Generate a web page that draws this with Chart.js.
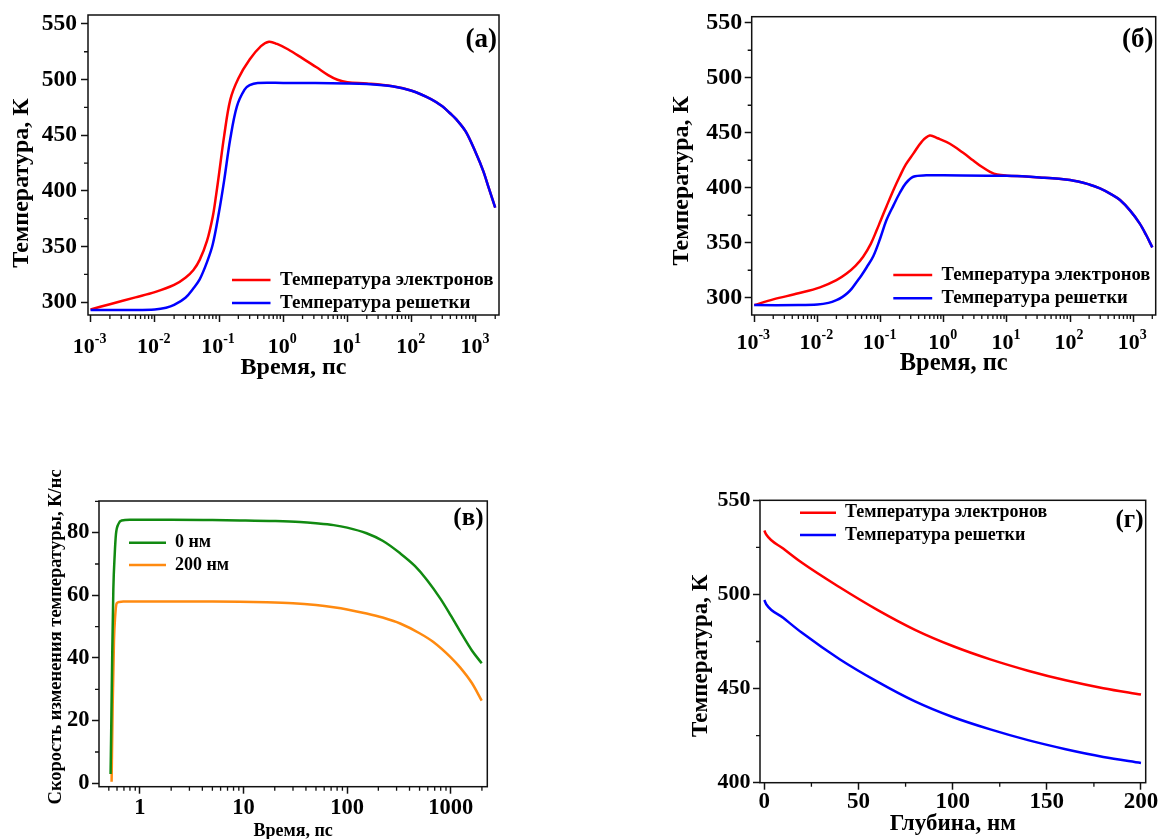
<!DOCTYPE html>
<html><head><meta charset="utf-8">
<script src="https://cdn.jsdelivr.net/npm/chart.js@4.4.1/dist/chart.umd.min.js"></script>
<style>
html,body{margin:0;padding:0;background:#fff;overflow:hidden;width:1159px;height:839px;position:relative}
canvas{position:absolute;display:block}
</style></head><body>
<canvas id="ca" width="520" height="400" style="left:0;top:0;width:520px;height:400px"></canvas>
<canvas id="cb" width="519" height="400" style="left:640px;top:0;width:519px;height:400px"></canvas>
<canvas id="cc" width="520" height="399" style="left:0;top:440px;width:520px;height:399px"></canvas>
<canvas id="cd" width="519" height="399" style="left:640px;top:440px;width:519px;height:399px"></canvas>
<script>
// ---------- DATA ----------
// (а) temperature vs time, log time axis
const a_te_t = [0.001,0.002,0.005,0.01,0.02,0.03,0.04,0.05,0.065,0.08,0.09,0.1,0.12,0.15,0.2,0.3,0.45,0.6,0.8,1.2,2,3.3,5,7,10,20,50,100,200,300,400,500,700,1000,1300,1600,2000];
const a_te_T = [293.5,298.2,304.3,309,315.5,322,329,338,355,377,396,415,449,482,501,518,530,534,532,527,519,511,504,499.8,497.6,496.5,494,490,482.5,476,469.5,464,453,434,418,402,385];
const a_tl_t = [0.001,0.005,0.01,0.015,0.02,0.03,0.04,0.05,0.065,0.08,0.1,0.12,0.15,0.19,0.25,0.3,0.4,1,10,20,50,100,200,300,400,500,700,1000,1300,1600,2000];
const a_tl_T = [293,293,293.5,295,297.5,304,312.5,320.5,336,352,381,409,447,476,491,495,497,497,496.5,496,494,490,482.5,476,469.5,464,453,434,418,402,385];
// (б)
const b_te_t = [0.001,0.002,0.005,0.011,0.02,0.029,0.04,0.053,0.07,0.087,0.1,0.124,0.16,0.2,0.25,0.33,0.45,0.6,0.8,1.25,2,2.9,4,5.4,7,10,20,33,100,200,297,450,617,900,1260,1600,2000];
const b_te_T = [293.3,298.5,304,309.4,316,322,329,337.3,349,361.5,370,383,398,410,421,431,442,447.5,445,440,432,425,419,414.5,412,411,410.3,409.4,407,403,399.4,394,388.8,379,367.6,357,345.8];
const b_tl_t = [0.001,0.005,0.01,0.015,0.02,0.025,0.03,0.035,0.042,0.05,0.06,0.077,0.1,0.124,0.16,0.2,0.25,0.33,0.53,1,10,33,100,200,297,450,617,900,1260,1600,2000];
const b_tl_T = [293.3,293.3,293.8,295.3,297.8,300.8,304.3,308.3,314.5,320.5,327.5,338,355,370.6,384,395,404,410,411.3,411.3,410.8,409.4,407,403,399.4,394,388.8,379,367.6,357,345.8];
// (в) heating rate vs time
const c_g_t = [0.52,0.53,0.54,0.553,0.57,0.586,0.62,0.665,0.8,1,2,5,9.2,20,35,50,74,100,154,220,325,450,587,800,1000,1300,1600,1990];
const c_g_v = [3,22,42,62,73,79.5,82.8,83.9,84.1,84.1,84.1,84,83.9,83.7,83.4,83,82.4,81.6,79.8,77.4,73.4,69.4,65,58.8,53.6,47.2,42.4,38.3];
const c_o_t = [0.532,0.545,0.561,0.575,0.595,0.63,0.69,1,5,16.7,30,50,74,100,154,220,325,500,680,1000,1230,1600,1990];
const c_o_v = [0.5,25,45.7,53,57.4,57.9,58,58,58,57.8,57.5,56.9,56.2,55.5,54.2,52.9,51,47.9,45.1,40.2,37,32,26.4];
// (г) temperature vs depth
const d_x   = [0,1,10,20,40,60,80,100,120,140,160,180,200];
const d_e_T = [534,531.8,524.4,516.8,503.8,491.8,481.2,472.6,465.5,459.5,454.4,450.2,446.8];
const d_l_T = [497,494.8,487.6,479.6,465.6,453.7,443.2,434.9,428.3,422.6,417.8,413.7,410.5];
// labels
const lblTe = 'Температура электронов';
const lblTl = 'Температура решетки';
const lbl0 = '0 нм';
const lbl200 = '200 нм';
const yTitleT = 'Температура, К';
const yTitleRate = 'Скорость изменения температуры, К/нс';
const xTitleTime = 'Время, пс';
const xTitleDepth = 'Глубина, нм';
const yTicksA = [300,325,350,375,400,425,450,475,500,525,550];
const yTicksC = [0,10,20,30,40,50,60,70,80,90];
const yTicksD = [400,425,450,475,500,525,550];
const xTicksD = [0,25,50,75,100,125,150,175,200];

// ---------- STYLE / HELPERS ----------
const FONT = '"Liberation Serif", "Times New Roman", serif';
const AX = '#111';
const RED = '#ff0000', BLUE = '#0000ff', GREEN = '#118a11', ORANGE = '#ff8a10';
const NB = '\u00A0';
const pts = (xs, ys) => xs.map((x, i) => ({x: x, y: ys[i]}));

function logTicks(min, max) {
  const t = [];
  for (let e = Math.floor(Math.log10(min)); e <= Math.ceil(Math.log10(max)); e++) {
    for (let k = 1; k <= 9; k++) {
      const v = +(k * Math.pow(10, e)).toPrecision(6);
      if (v >= min && v <= max) t.push({value: v, major: k === 1});
    }
  }
  return t;
}
function listTicks(list, majorStep) {
  return list.map(v => ({value: v, major: Math.abs(Math.round(v / majorStep) * majorStep - v) < 1e-9}));
}
const tickCol = c => (c.tick && c.tick.major) ? AX : 'rgba(0,0,0,0)';
const grid = {display: true, drawOnChartArea: false, drawTicks: true, tickLength: 7, tickWidth: 1.5, tickColor: tickCol};
const zeroPad = s => { s.paddingTop = 0; s.paddingBottom = 0; s.paddingLeft = 0; s.paddingRight = 0; };

function yAxis(o) {
  return {
    type: 'linear', min: o.min, max: o.max,
    afterBuildTicks: s => { s.ticks = listTicks(o.ticks, o.major); },
    afterFit: s => { s.width = o.width; zeroPad(s); },
    grid: grid, border: {display: false},
    ticks: {autoSkip: false, padding: o.tickPad, color: '#000',
      font: {family: FONT, size: o.tickSize, weight: 'bold', lineHeight: 1},
      callback: (v, i, t) => t[i].major ? String(v) : ''},
    title: {display: true, text: o.title, color: '#000',
      font: {family: FONT, size: o.titleSize, weight: 'bold', lineHeight: 1},
      padding: {top: o.titlePad, bottom: 0}}
  };
}
function xAxis(o) {
  const isLog = o.type === 'logarithmic';
  return {
    type: o.type, min: o.min, max: o.max,
    afterBuildTicks: s => { s.ticks = isLog ? logTicks(s.min, s.max) : listTicks(o.ticks, o.major); },
    afterFit: s => { s.height = o.height; zeroPad(s); },
    grid: grid, border: {display: false},
    ticks: {autoSkip: false, maxRotation: 0, minRotation: 0, padding: o.tickPad, color: '#000',
      font: {family: FONT, size: o.tickSize, weight: 'bold', lineHeight: 1},
      callback: (v, i, t) => (t[i].major && !o.pow) ? String(v) : ''},
    title: {display: true, text: o.title, color: '#000',
      font: {family: FONT, size: o.titleSize, weight: 'bold', lineHeight: 1},
      padding: {top: 0, bottom: o.titlePad}}
  };
}

const panelPlugin = {
  id: 'panel',
  beforeDraw(chart, args, o) {
    const lg = chart.legend;
    if (lg && o.legendAt) {
      const pad = chart.options.plugins.legend.labels.padding;
      const w = lg.width;
      lg.left = o.legendAt[0] - pad; lg.top = o.legendAt[1] - pad;
      lg.right = lg.left + w; lg.bottom = chart.height;
    }
  },
  afterDraw(chart, args, o) {
    const ctx = chart.ctx, a = chart.chartArea;
    const xs = chart.scales.x, ys = chart.scales.y;
    ctx.save();
    ctx.strokeStyle = AX; ctx.lineWidth = 1.5;
    ctx.strokeRect(a.left, a.top, a.right - a.left, a.bottom - a.top);
    ctx.lineWidth = 1.3;
    ctx.beginPath();
    xs.ticks.forEach(t => { if (!t.major) { const p = xs.getPixelForValue(t.value); ctx.moveTo(p, a.bottom); ctx.lineTo(p, a.bottom + 4); } });
    ys.ticks.forEach(t => { if (!t.major) { const p = ys.getPixelForValue(t.value); ctx.moveTo(a.left, p); ctx.lineTo(a.left - 4, p); } });
    ctx.stroke();
    ctx.fillStyle = '#000';
    ctx.textBaseline = 'alphabetic';
    if (o.pow) {
      const f1 = 'bold ' + o.pow.size + 'px ' + FONT, f2 = 'bold ' + o.pow.expSize + 'px ' + FONT;
      xs.ticks.forEach(t => {
        if (!t.major) return;
        const p = xs.getPixelForValue(t.value);
        const e = Math.round(Math.log10(t.value));
        const es = String(e);
        ctx.font = f1; const w1 = ctx.measureText('10').width;
        ctx.font = f2; const w2 = ctx.measureText(es).width;
        const x0 = p - (w1 + w2) / 2 + o.pow.dx;
        const base = a.bottom + o.pow.base;
        ctx.textAlign = 'left';
        ctx.font = f1; ctx.fillText('10', x0, base);
        ctx.font = f2; ctx.fillText(es, x0 + w1, base - o.pow.rise);
      });
    }
    ctx.font = 'bold ' + o.labelSize + 'px ' + FONT;
    ctx.textAlign = 'right';
    ctx.fillText(o.label, o.labelAt[0], o.labelAt[1]);
    ctx.restore();
  }
};

function ds(label, xs, ys, color, order, mono) {
  const d = {label: label, data: pts(xs, ys), borderColor: color, backgroundColor: color,
    borderWidth: 2.5, pointRadius: 0, fill: false, order: order};
  if (mono) d.cubicInterpolationMode = 'monotone'; else d.tension = 0.35;
  return d;
}

function makeChart(id, c) {
  return new Chart(document.getElementById(id), {
    type: 'line',
    data: {datasets: c.datasets},
    options: {
      responsive: false, animation: false, devicePixelRatio: 1, events: [],
      layout: {padding: c.padding},
      scales: {x: c.x, y: c.y},
      plugins: {
        tooltip: {enabled: false},
        legend: {display: true, position: 'chartArea', align: 'start',
          labels: {usePointStyle: true, pointStyle: 'line', pointStyleWidth: c.legend.psw,
            padding: c.legend.pad, color: '#000',
            font: {family: FONT, size: c.legend.size, weight: 'bold'},
            sort: (p, q) => p.datasetIndex - q.datasetIndex}},
        panel: c.panel
      }
    },
    plugins: [panelPlugin]
  });
}

// (а)
makeChart('ca', {
  padding: {left: 0, top: 15, right: 21, bottom: 0},
  datasets: [ds(lblTe, a_te_t, a_te_T, RED, 1, false), ds(lblTl, a_tl_t, a_tl_T, BLUE, 0, false)],
  x: xAxis({type: 'logarithmic', min: Math.pow(10, -3.04), max: Math.pow(10, 3.36), height: 85, pow: true,
    tickPad: 4, tickSize: 22, title: xTitleTime, titleSize: 24, titlePad: 20.3}),
  y: yAxis({min: 288.5, max: 558, ticks: yTicksA, major: 50, width: 88, tickPad: 4, tickSize: 23.5,
    title: yTitleT + NB.repeat(6), titleSize: 24, titlePad: 9.8}),
  legend: {psw: 38.5, pad: 4, size: 19},
  panel: {legendAt: [232, 270.5], label: '(а)', labelSize: 27, labelAt: [497, 47],
    pow: {size: 22, expSize: 14, rise: 10, base: 37.7, dx: -1}}
});
// (б)
makeChart('cb', {
  padding: {left: 0, top: 16.7, right: 3.3, bottom: 0},
  datasets: [ds(lblTe, b_te_t, b_te_T, RED, 1, false), ds(lblTl, b_tl_t, b_tl_T, BLUE, 0, false)],
  x: xAxis({type: 'logarithmic', min: Math.pow(10, -3.04), max: Math.pow(10, 3.355), height: 85, pow: true,
    tickPad: 4, tickSize: 22, title: xTitleTime, titleSize: 24.5, titlePad: 24.5}),
  y: yAxis({min: 284.3, max: 555.5, ticks: yTicksA, major: 50, width: 111.7, tickPad: 2.5, tickSize: 24,
    title: yTitleT + NB.repeat(5), titleSize: 24, titlePad: 29.8}),
  legend: {psw: 38.9, pad: 4.7, size: 18.6},
  panel: {legendAt: [253.3, 265.7], label: '(б)', labelSize: 27, labelAt: [513.5, 47],
    pow: {size: 22, expSize: 14, rise: 10, base: 33.5, dx: -1}}
});
// (в)
makeChart('cc', {
  padding: {left: 0, top: 61, right: 32.7, bottom: 0},
  datasets: [ds(lbl0, c_g_t, c_g_v, GREEN, 0, true), ds(lbl200, c_o_t, c_o_v, ORANGE, 1, true)],
  x: xAxis({type: 'logarithmic', min: 0.402, max: 2254, height: 52.3, pow: false,
    tickPad: 3.6, tickSize: 22.5, title: xTitleTime, titleSize: 18, titlePad: -1.5}),
  y: yAxis({min: -1.08, max: 90.1, ticks: yTicksC, major: 20, width: 99, tickPad: 2.5, tickSize: 22.5,
    title: NB.repeat(3) + yTitleRate, titleSize: 18.5, titlePad: 46.6}),
  legend: {psw: 37, pad: 4.3, size: 18},
  panel: {legendAt: [129, 93.7], label: '(в)', labelSize: 25, labelAt: [483.5, 84.5]}
});
// (г)
makeChart('cd', {
  padding: {left: 0, top: 60.3, right: 13.3, bottom: 0},
  datasets: [ds(lblTe, d_x, d_e_T, RED, 0, true), ds(lblTl, d_x, d_l_T, BLUE, 1, true)],
  x: xAxis({type: 'linear', min: -2.3, max: 202.5, ticks: xTicksD, major: 50, height: 56.3, pow: false,
    tickPad: 0.5, tickSize: 23, title: xTitleDepth, titleSize: 23, titlePad: 3.8}),
  y: yAxis({min: 400, max: 550, ticks: yTicksD, major: 50, width: 120, tickPad: 2.5, tickSize: 22,
    title: yTitleT + NB.repeat(5), titleSize: 23, titlePad: 50}),
  legend: {psw: 36, pad: 4.3, size: 18},
  panel: {legendAt: [160, 63.7], label: '(г)', labelSize: 25, labelAt: [503.5, 87]}
});
</script>
</body></html>
